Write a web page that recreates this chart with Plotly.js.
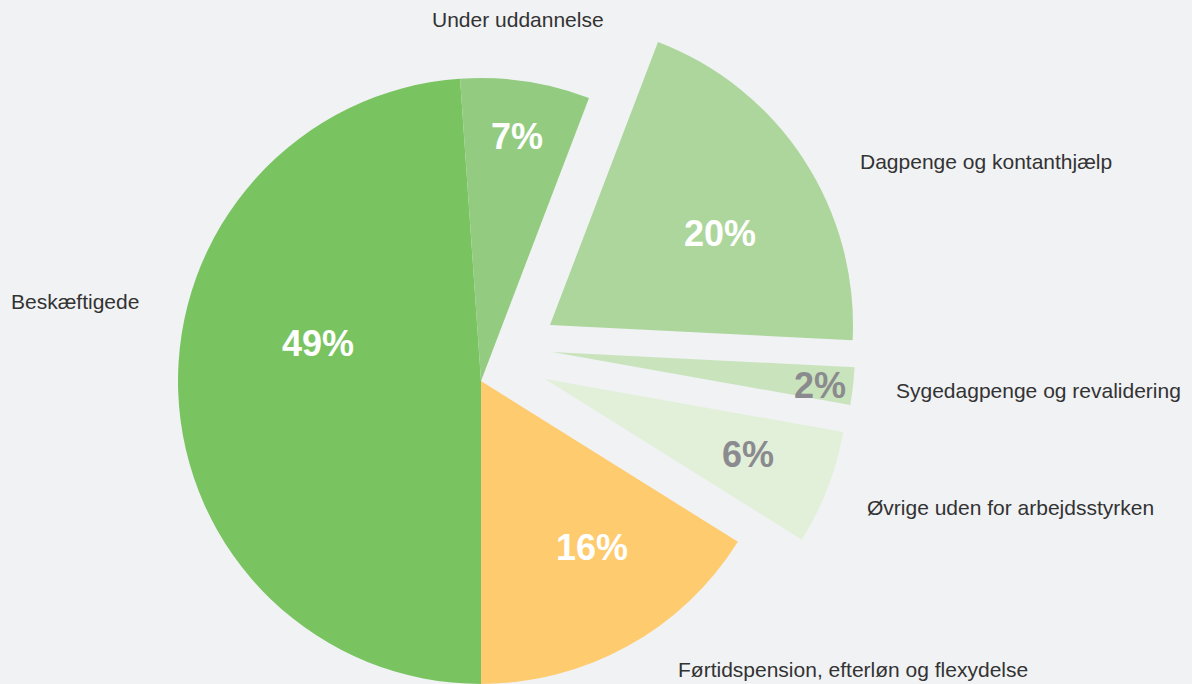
<!DOCTYPE html>
<html>
<head>
<meta charset="utf-8">
<script src="https://cdn.plot.ly/plotly-3.0.1.min.js"></script>
<style>
  html, body { margin: 0; padding: 0; background: #f1f2f4; }
  #chart { width: 1192px; height: 684px; }
</style>
</head>
<body>
<div id="chart"></div>
<script>
// ---- data ----
const labels = [
  "Beskæftigede",
  "Under uddannelse",
  "Dagpenge og kontanthjælp",
  "Sygedagpenge og revalidering",
  "Øvrige uden for arbejdsstyrken",
  "Førtidspension, efterløn og flexydelse"
];
const values = [48.9, 6.9, 20.0, 2.0, 6.1, 16.1];
const pulledSlices = [2, 3, 4];

// ---- styles ----
const W = 1192, H = 684;
const sliceColors = ["#79c461", "#93cc80", "#add69c", "#c9e4bc", "#e2f0da", "#fecb6f"];
const pctColors = ["#ffffff", "#ffffff", "#ffffff", "#8b8b8f", "#8b8b8f", "#ffffff"];
const R = 303;
// pixel centres of the main pie and of each pulled-out slice
const mainCenter = [481, 381];
const pulledCenters = { 2: [550, 325], 3: [552, 352], 4: [545, 379] };
// label positions (px): [x, y], left-anchored
const labelPos = [[9, 301], [430, 19], [858, 162], [894, 390], [865, 507], [676, 669]];
// percent positions (px): centre
const pctPos = [[318, 343], [517, 136], [720, 233], [820, 385], [748, 454], [592, 547]];

function domainFor(c) {
  return {
    x: [(c[0] - R) / W, (c[0] + R) / W],
    y: [(H - c[1] - R) / H, (H - c[1] + R) / H]
  };
}

function pieTrace(visibleIdx, center) {
  return {
    type: "pie",
    labels: labels,
    values: values,
    sort: false,
    direction: "clockwise",
    rotation: 180,
    textinfo: "none",
    hoverinfo: "label+percent",
    showlegend: false,
    domain: domainFor(center),
    marker: {
      colors: sliceColors.map((c, i) => visibleIdx.includes(i) ? c : "rgba(0,0,0,0)"),
      line: { width: 0 }
    }
  };
}

const mainIdx = labels.map((_, i) => i).filter(i => !pulledSlices.includes(i));
const traces = [pieTrace(mainIdx, mainCenter)];
pulledSlices.forEach(i => traces.push(pieTrace([i], pulledCenters[i])));

const total = values.reduce((a, b) => a + b, 0);
const annotations = [];
labels.forEach((lab, i) => {
  annotations.push({
    text: lab,
    xref: "paper", yref: "paper",
    x: labelPos[i][0] / W, y: 1 - labelPos[i][1] / H,
    xanchor: "left", yanchor: "middle",
    showarrow: false,
    font: { family: "Liberation Sans, Arial, sans-serif", size: 21, color: "#333333" }
  });
  annotations.push({
    text: "<b>" + Math.round(values[i] / total * 100) + "%</b>",
    xref: "paper", yref: "paper",
    x: pctPos[i][0] / W, y: 1 - pctPos[i][1] / H,
    xanchor: "center", yanchor: "middle",
    showarrow: false,
    font: { family: "Liberation Sans, Arial, sans-serif", size: 36, color: pctColors[i] }
  });
});

const layout = {
  width: W, height: H,
  margin: { l: 0, r: 0, t: 0, b: 0, pad: 0 },
  paper_bgcolor: "#f1f2f4",
  plot_bgcolor: "#f1f2f4",
  showlegend: false,
  annotations: annotations
};

Plotly.newPlot("chart", traces, layout, { displayModeBar: false, staticPlot: true });
</script>
</body>
</html>
